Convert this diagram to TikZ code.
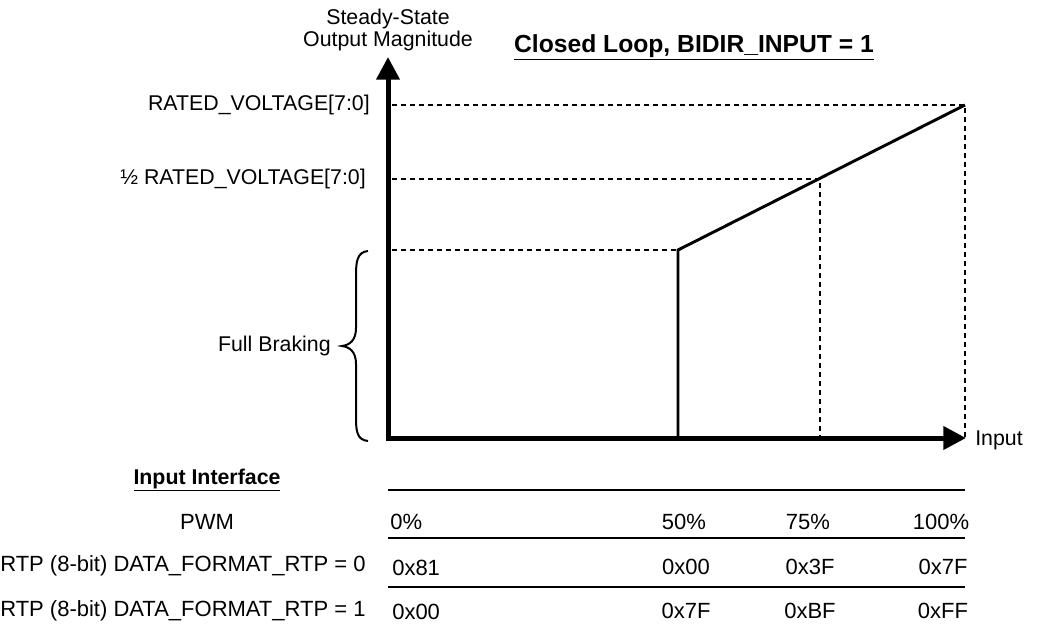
\documentclass[tikz,border=0pt]{standalone}
\usepackage{fontspec}
\setmainfont{Liberation Sans}
\usetikzlibrary{arrows.meta}
\begin{document}
\begin{tikzpicture}[x=0.75pt,y=-0.75pt,
  lbl/.style={inner sep=0pt,font=\fontsize{16}{16.5}\selectfont},
  tbl/.style={inner sep=0pt,font=\fontsize{16.5}{18}\selectfont},
  axisline/.style={line width=3.75pt,-{Triangle[length=17pt,width=17pt]}},
  plotline/.style={line width=2.2pt},
  guide/.style={line width=2.2pt,dash pattern=on 3.75pt off 3pt},
  rule/.style={line width=1.6pt},
  bracepath/.style={line width=1.5pt}]
\useasboundingbox (0,0) rectangle (1042,633);
% key points
\coordinate (O) at (388,438);
\coordinate (ytip) at (388,57);
\coordinate (xtip) at (966,438);
\coordinate (rv) at (392,105);
\coordinate (hrv) at (392,179);
\coordinate (lrv) at (392,250);
\coordinate (p100) at (965,105);
\coordinate (p75) at (820,179);
\coordinate (p50) at (678,250);
\coordinate (b100) at (965,438);
\coordinate (b75) at (820,438);
\coordinate (b50) at (678,438);
% guides
\draw[guide] (rv) -- (p100) -- (b100);
\draw[guide] (hrv) -- (p75) -- (b75);
\draw[guide] (lrv) -- (p50);
% plot
\draw[plotline,line join=miter] (b50) -- (p50) -- (p100);
% axes
\draw[axisline] (O) -- (ytip);
\draw[axisline] ([xshift=-1.5pt]O) -- (xtip);
% labels
\node[lbl,align=center] (ylab) at (388,30) {Steady-State\\Output Magnitude};
\node[lbl,font=\fontsize{18.5}{20}\selectfont\bfseries] (title) at (694,47) {\underline{Closed Loop, BIDIR\_INPUT = 1}};
\node[lbl,anchor=east] (lrated) at (370,105) {RATED\_VOLTAGE[7:0]};
\node[lbl,anchor=east] (lhalf) at (366,179) {½ RATED\_VOLTAGE[7:0]};
\node[lbl,anchor=east] (lbrake) at (331,346) {Full Braking};
\node[lbl,anchor=west] (linput) at (975,440) {Input};
% brace
\draw[bracepath] (368,251) .. controls (357,252) and (356,262) .. (356,275)
  -- (356,328) .. controls (356,340) and (350,345) .. (342,346)
  .. controls (350,347) and (356,352) .. (356,364)
  -- (356,418) .. controls (356,431) and (357,440) .. (368,441);
% table
\node[tbl,font=\fontsize{16}{18}\selectfont\bfseries] (tint) at (207,480) {\underline{Input Interface}};
\coordinate (r1a) at (388,490); \coordinate (r1b) at (965,490);
\coordinate (r2a) at (388,538); \coordinate (r2b) at (965,538);
\coordinate (r3a) at (388,587); \coordinate (r3b) at (965,587);
\draw[rule] (r1a) -- (r1b);
\draw[rule] (r2a) -- (r2b);
\draw[rule] (r3a) -- (r3b);
\node[tbl] (pwm) at (207,522) {PWM};
\node[tbl,anchor=west] (pw0) at (390,522) {0\%};
\node[tbl] (pw50) at (684,522) {50\%};
\node[tbl] (pw75) at (808,522) {75\%};
\node[tbl] (pw100) at (941,522) {100\%};
\node[tbl,anchor=west] (rtp0) at (0,566) {RTP (8-bit) DATA\_FORMAT\_RTP = 0};
\node[tbl,anchor=west] (a0) at (392,568) {0x81};
\node[tbl] (a50) at (686,567) {0x00};
\node[tbl] (a75) at (810,567) {0x3F};
\node[tbl] (a100) at (943,567) {0x7F};
\node[tbl,anchor=west] (rtp1) at (0,611) {RTP (8-bit) DATA\_FORMAT\_RTP = 1};
\node[tbl,anchor=west] (b0) at (392,612) {0x00};
\node[tbl] (bb50) at (686,611) {0x7F};
\node[tbl] (bb75) at (810,611) {0xBF};
\node[tbl] (bb100) at (943,611) {0xFF};
\end{tikzpicture}
\end{document}
